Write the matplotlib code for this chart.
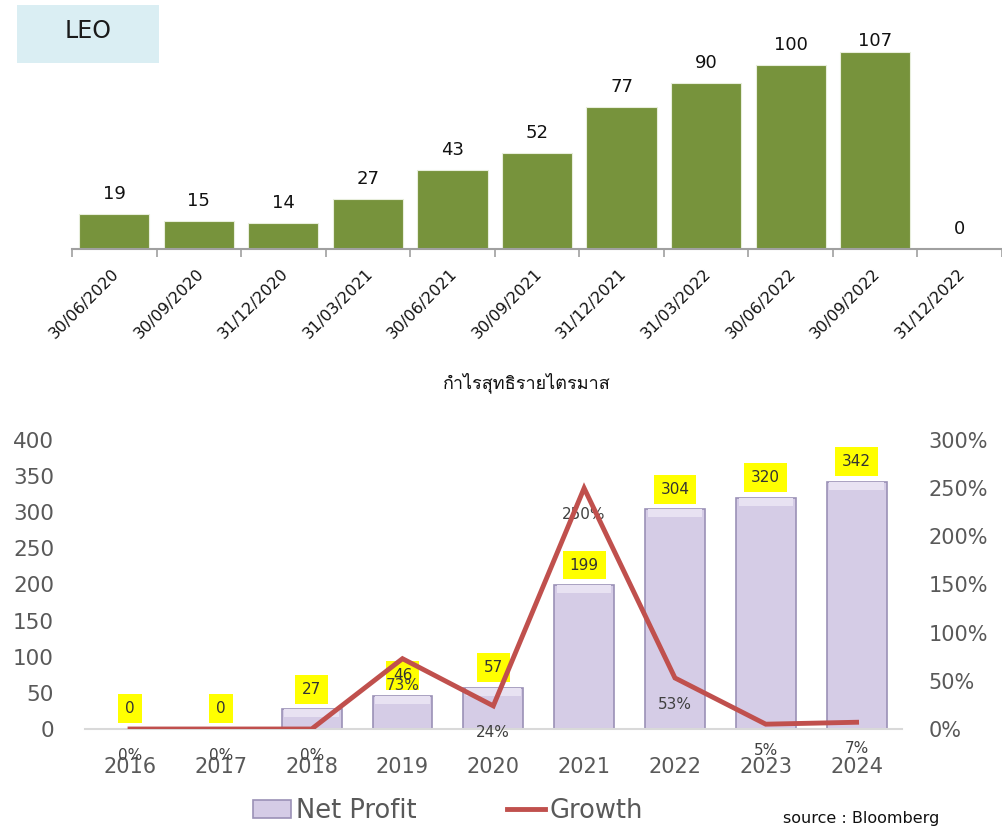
import numpy as np
import matplotlib
matplotlib.use("Agg")
import matplotlib.pyplot as plt
from matplotlib import font_manager, ft2font
from matplotlib.patches import Rectangle, Patch
from matplotlib.lines import Line2D

# quarterly net profit (top chart)
quarters = ["30/06/2020", "30/09/2020", "31/12/2020", "31/03/2021", "30/06/2021",
            "30/09/2021", "31/12/2021", "31/03/2022", "30/06/2022", "30/09/2022",
            "31/12/2022"]
q_profit = [19, 15, 14, 27, 43, 52, 77, 90, 100, 107, 0]

# yearly net profit + growth (bottom chart)
years = ["2016", "2017", "2018", "2019", "2020", "2021", "2022", "2023", "2024"]
net_profit = [0, 0, 27, 46, 57, 199, 304, 320, 342]
growth = [0.0, 0.0, 0.0, 0.73, 0.24, 2.50, 0.53, 0.05, 0.07]

THAI_TITLE = "กำไรสุทธิรายไตรมาส"


def find_thai_font():
    for f in font_manager.fontManager.ttflist:
        try:
            ft = ft2font.FT2Font(f.fname)
            if ft.get_char_index(0x0E01) and ft.get_char_index(0x0E33):
                return f.name
        except Exception:
            pass
    return "DejaVu Sans"


W, H = 1002, 827
fig = plt.figure(figsize=(W / 100, H / 100), dpi=100)


def px_axes(l, t, r, b):
    return fig.add_axes([l / W, 1 - b / H, (r - l) / W, (b - t) / H])


# ---- top chart ----
ax1 = px_axes(72, 30, 1002, 249)
x = np.arange(len(quarters))
ax1.bar(x, q_profit, width=0.83, color="#77933C", edgecolor="#E8EEDC", linewidth=0.8)
ax1.set_xlim(-0.5, -0.5 + 930 / 85.7)
ax1.set_ylim(0, 219 / 1.842)
for s in ["top", "left", "right"]:
    ax1.spines[s].set_visible(False)
ax1.spines["bottom"].set_color("#A0A0A0")
ax1.spines["bottom"].set_linewidth(1.5)
ax1.set_yticks([])
ax1.set_xticks(np.arange(len(quarters) + 1) - 0.5)
ax1.set_xticklabels([])
ax1.tick_params(axis="x", length=6, width=1.2, color="#A0A0A0", direction="out")

label_cap = 102
for i, v in enumerate(q_profit):
    ax1.annotate(str(v), (i, min(v, label_cap)), xytext=(0, 14.5), textcoords="offset points",
                 ha="center", va="center", fontsize=13, color="#111111")
    ax1.annotate(quarters[i], (i, 0), xytext=(2, -16), textcoords="offset points",
                 ha="right", va="center", rotation=45, rotation_mode="anchor",
                 fontsize=11.5, color="#111111", annotation_clip=False)

fig.patches.append(Rectangle((17 / W, 1 - 63 / H), 142 / W, 58 / H,
                             transform=fig.transFigure, facecolor="#DAEEF3", edgecolor="none"))
fig.text(88 / W, 1 - 31 / H, "LEO", fontsize=17, ha="center", va="center", color="#1a1a1a")
fig.text(527 / W, 1 - 383 / H, THAI_TITLE, fontsize=13, ha="center", va="center",
         family=[find_thai_font(), "DejaVu Sans"], color="#111111")

# ---- bottom chart ----
ax2 = px_axes(84.6, 440, 902, 729)
xb = np.arange(len(years))
bar_fc = "#D5CCE6"
bar_ec = "#9B91B6"
ax2.bar(xb, net_profit, width=0.66, color=bar_fc, edgecolor=bar_ec, linewidth=1.2, zorder=2)
# bevel highlight on top of each bar
hl = [min(v, 8 / 0.7225) for v in net_profit]
ax2.bar(xb, hl, bottom=np.array(net_profit) - np.array(hl), width=0.6,
        color="#E8E2F2", edgecolor="none", zorder=3)
ax2.set_xlim(-0.5, 8.5)
ax2.set_ylim(0, 400)
ax2.set_yticks(np.arange(0, 401, 50))
for s in ["top", "left", "right"]:
    ax2.spines[s].set_visible(False)
ax2.spines["bottom"].set_color("#D9D9D9")
ax2.spines["bottom"].set_linewidth(1.5)
ax2.set_xticks(xb)
ax2.set_xticklabels(years)
ax2.tick_params(axis="x", length=0, pad=20, labelsize=15, labelcolor="#595959")
ax2.tick_params(axis="y", length=0, pad=22, labelsize=15.5, labelcolor="#595959")

for i, v in enumerate(net_profit):
    ax2.annotate(str(v), (i, v), xytext=(0, 14.5), textcoords="offset points",
                 ha="center", va="center", fontsize=11, color="#333333", zorder=4,
                 bbox=dict(boxstyle="square,pad=0.45", fc="#FFFF00", ec="none"))

ax3 = ax2.twinx()
ax3.plot(xb, growth, color="#C0504D", linewidth=3.5, solid_joinstyle="miter", zorder=5)
ax3.set_ylim(0, 3)
ax3.set_yticks(np.arange(0, 3.01, 0.5))
ax3.set_yticklabels(["{:.0%}".format(t) for t in np.arange(0, 3.01, 0.5)])
for s in ["top", "left", "right", "bottom"]:
    ax3.spines[s].set_visible(False)
ax3.tick_params(axis="y", length=0, pad=19, labelsize=15, labelcolor="#595959")
for i, g in enumerate(growth):
    ax3.annotate("{:.0%}".format(g), (i, g), xytext=(0, -19), textcoords="offset points",
                 ha="center", va="center", fontsize=11, color="#404040", annotation_clip=False)

handles = [Patch(facecolor=bar_fc, edgecolor=bar_ec, linewidth=1.2),
           Line2D([], [], color="#C0504D", linewidth=3.5)]
fig.legend(handles, ["Net Profit", "Growth"], loc="center", bbox_to_anchor=(448 / W, 1 - 811 / H),
           ncol=2, frameon=False, fontsize=18.5, handlelength=1.48, handleheight=0.7,
           handletextpad=0.2, columnspacing=3.5, labelcolor="#595959")
fig.text(783 / W, 1 - 818 / H, "source : Bloomberg", fontsize=11.5, va="center", color="#111111")

fig.savefig("out.png", dpi=100)
